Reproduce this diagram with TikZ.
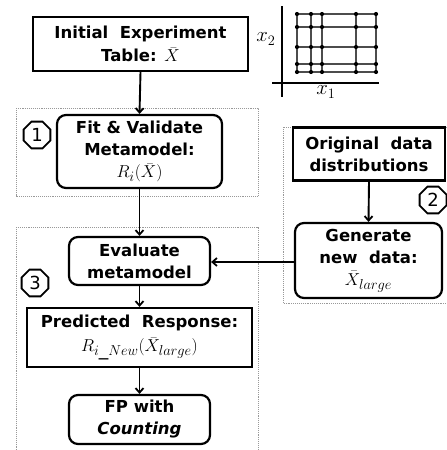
\documentclass[tikz,border=0pt]{standalone}
\usepackage{fontspec}
\setmainfont{DejaVu Sans}
\usetikzlibrary{shapes.geometric,arrows.meta}
\newcommand{\bigmath}[1]{{\fontsize{19}{19}\selectfont\mdseries$#1$}}
\begin{document}
\begin{tikzpicture}[x=1pt,y=-1pt,
  every node/.style={font=\fontsize{16.5}{22}\selectfont\bfseries, align=center, inner sep=0pt},
  sqbox/.style={draw, line width=2.2pt, rectangle},
  rdbox/.style={draw, line width=2.2pt, rectangle, rounded corners=9pt},
  stage/.style={draw=gray!80, densely dotted, line width=0.9pt},
  oct/.style={draw, line width=1.8pt, regular polygon, regular polygon sides=8, minimum size=29pt, font=\fontsize{18}{18}\selectfont},
  flow/.style={line width=1.9pt, -{Straight Barb[length=4.5pt,width=8pt,line width=1.8pt]}},
  gridln/.style={gray!60!black, line width=1.2pt},
  axisln/.style={line width=2.4pt},
  dot/.style={circle, fill=black, minimum size=4.2pt, inner sep=0pt}
]
\useasboundingbox (0,0) rectangle (447,450);

% dotted stage frames
\draw[stage] (16,108) rectangle (258,196);
\draw[stage] (16,227) rectangle (258,470);
\draw[stage] (283,127) rectangle (470,303);

% process boxes
\node[sqbox, minimum width=215pt, minimum height=54pt] (init) at (140.5,44)
  {Initial\ \ Experiment\\[1pt]Table: \bigmath{\bar{X}}};
\node[rdbox, minimum width=165pt, minimum height=73pt] (fit) at (139.5,151.5)
  {Fit \& Validate\\Metamodel:\\[0pt]\bigmath{R_i(\bar{X})}};
\node[rdbox, minimum width=141pt, minimum height=48pt] (eval) at (139.5,261)
  {Evaluate\\metamodel};
\node[sqbox, minimum width=225pt, minimum height=59pt] (pred) at (139.5,337.5)
  {Predicted\ \ Response:\\[2pt]\bigmath{R_{i\_New}(\bar{X}_{large})}};
\node[rdbox, minimum width=141pt, minimum height=49pt] (fp) at (139.5,419.5)
  {FP with\\\textit{Counting}};
\node[sqbox, minimum width=152pt, minimum height=53pt] (orig) at (369,154)
  {Original\ \ data\\distributions};
\node[rdbox, minimum width=147pt, minimum height=75pt] (gen) at (368.5,260.5)
  {Generate\\new\ \ data:\\[0pt]\bigmath{\bar{X}_{large}}};

% stage numbers
\node[oct] (s1) at (37,135) {1};
\node[oct] (s2) at (433,200) {2};
\node[oct] (s3) at (35,283) {3};

% flow arrows
\draw[flow] (init.south) -- (fit.north);
\draw[flow] (fit.south) -- (eval.north);
\draw[flow] (eval.south) -- (pred.north);
\draw[flow] (pred.south) -- (fp.north);
\draw[flow] (orig.south) -- (gen.north);
\draw[flow] (gen.west |- 0,262) -- (eval.east |- 0,262);

% sample design grid
\foreach \gx in {297,311,322,356,376} {
  \draw[gridln] (\gx,14) -- (\gx,72);
}
\foreach \gy in {14,27,47,64,72} {
  \draw[gridln] (297,\gy) -- (376,\gy);
}
\foreach \gx in {297,311,322,356,376} {
  \foreach \gy in {14,27,47,64,72} {
    \node[dot] at (\gx,\gy) {};
  }
}
\coordinate (ytop) at (282,6);
\coordinate (ybot) at (282,97);
\coordinate (xl) at (272,83);
\coordinate (xr) at (379,83);
\draw[axisln] (ytop) -- (ybot);
\draw[axisln] (xl) -- (xr);
\node[font=\fontsize{20}{20}\selectfont\mdseries] (lx2) at (266,39) {$x_2$};
\node[font=\fontsize{20}{20}\selectfont\mdseries] (lx1) at (326,92) {$x_1$};
\end{tikzpicture}
\end{document}
